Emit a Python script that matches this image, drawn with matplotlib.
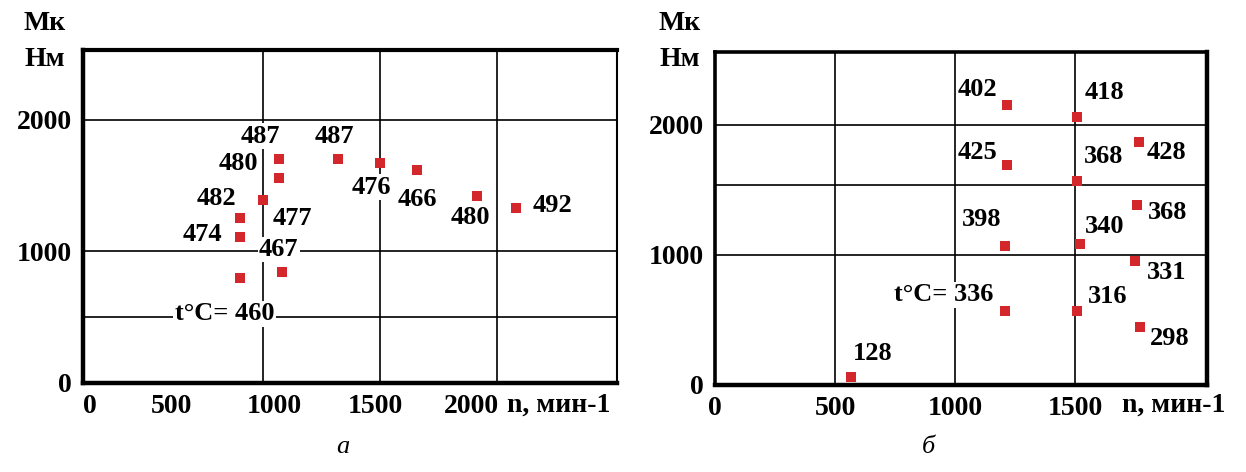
import matplotlib.pyplot as plt

plt.rcParams['font.family'] = ['Liberation Serif', 'DejaVu Serif']

# --- panel a ---
n_a = [900, 900, 900, 1000, 1070, 1070, 1080, 1320, 1500, 1660, 1915, 2080]
m_a = [800, 1110, 1250, 1390, 1560, 1700, 840, 1700, 1670, 1620, 1420, 1330]
t_a = ['t°C= 460', '474', '482', '477', '480', '487', '467', '487', '476', '466', '480', '492']
x_ticks_a = ['0', '500', '1000', '1500', '2000']
y_ticks_a = ['0', '1000', '2000']

# --- panel b ---
n_b = [1215, 1510, 1215, 1510, 1765, 1760, 1210, 1520, 1750, 1210, 1510, 1770, 565]
m_b = [2150, 2060, 1690, 1570, 1870, 1385, 1070, 1085, 955, 570, 570, 445, 60]
t_b = ['402', '418', '425', '368', '428', '368', '398', '340', '331', 't°C= 336', '316', '298', '128']
x_ticks_b = ['0', '500', '1000', '1500']
y_ticks_b = ['0', '1000', '2000']

# сдвиги подписей относительно точек (в пикселях)
off_a = [(-15, -36), (-37, 2), (-23, 20), (29, -18), (-41, 14), (-19, 23),
         (-3, 23), (-3, 23), (-9, -24), (0, -30), (-7, -21), (37, 2)]
off_b = [(-29, 16), (27, 25), (-29, 13), (26, 24), (28, -11), (30, -8),
         (-24, 26), (25, 17), (32, -12), (-62, 16), (30, 14), (30, -11), (22, 24)]

red = '#d4272b'

fig = plt.figure(figsize=(12.46, 4.72), dpi=100)
ax1 = fig.add_axes([83/1246, 1-383/472, (617-83)/1246, (383-50)/472])
ax2 = fig.add_axes([715/1246, 1-385/472, (1207-715)/1246, (385-52)/472])


def panel(ax, n, m, t, offs):
    ax.scatter(n, m, marker='s', s=55, color=red, zorder=4, linewidths=0)
    for xi, yi, lab, (dx, dy) in zip(n, m, t, offs):
        ax.annotate(lab, (xi, yi), xytext=(dx, dy), textcoords='offset pixels',
                    ha='center', va='center', fontsize=19, fontweight='bold',
                    zorder=3, bbox=dict(boxstyle='square,pad=0.05', fc='white', ec='none'))
    ax.tick_params(length=0, labelsize=20, pad=8)
    for lab in ax.get_xticklabels() + ax.get_yticklabels():
        lab.set_fontweight('bold')


# панель а: подписи оси x сдвинуты как в оригинале
ax1.set_xlim(231, 2513)
ax1.set_ylim(0, 2530)
for v in [1000, 1500, 2000]:
    ax1.axvline(v, color='black', lw=1.2, zorder=1)
for v in [500, 1000, 2000]:
    ax1.axhline(v, color='black', lw=1.2, zorder=1)
ax1.set_xticks([260, 610, 1050, 1480, 1890], labels=x_ticks_a)
ax1.set_yticks([0, 1000, 2000], labels=y_ticks_a)
panel(ax1, n_a, m_a, t_a, off_a)
ax1.spines['left'].set_linewidth(3.2)
ax1.spines['top'].set_linewidth(3.0)
ax1.spines['bottom'].set_linewidth(3.2)
ax1.spines['right'].set_linewidth(1.5)

# панель б
ax2.set_xlim(0, 2050)
ax2.set_ylim(0, 2560)
for v in [500, 1000, 1500]:
    ax2.axvline(v, color='black', lw=1.2, zorder=1)
for v in [1000, 1540, 2000]:
    ax2.axhline(v, color='black', lw=1.2, zorder=1)
ax2.set_xticks([0, 500, 1000, 1500], labels=x_ticks_b)
ax2.set_yticks([0, 1000, 2000], labels=y_ticks_b)
panel(ax2, n_b, m_b, t_b, off_b)
for s in ['left', 'top']:
    ax2.spines[s].set_linewidth(2.6)
for s in ['bottom', 'right']:
    ax2.spines[s].set_linewidth(3.2)

# подписи осей
for x0 in [45, 680]:
    fig.text(x0/1246, 1-24/472, 'Мк', ha='center', va='center', fontsize=20, fontweight='bold')
    fig.text(x0/1246, 1-59/472, 'Нм', ha='center', va='center', fontsize=20, fontweight='bold')
fig.text(507/1246, 1-405/472, 'n, мин-1', ha='left', va='center', fontsize=20, fontweight='bold')
fig.text(1122/1246, 1-405/472, 'n, мин-1', ha='left', va='center', fontsize=20, fontweight='bold')
fig.text(343/1246, 1-447/472, 'а', ha='center', va='center', fontsize=19, style='italic')
fig.text(928/1246, 1-447/472, 'б', ha='center', va='center', fontsize=19, style='italic')

plt.savefig('out.png', dpi=100)
